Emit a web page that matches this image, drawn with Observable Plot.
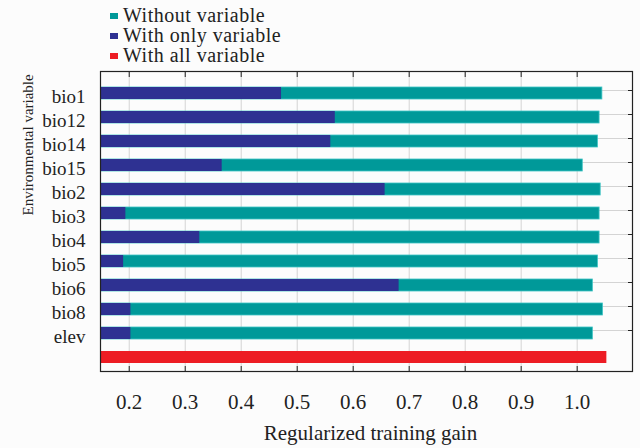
<!DOCTYPE html>
<html>
<head>
<meta charset="utf-8">
<script src="https://cdn.jsdelivr.net/npm/d3@7"></script>
<script src="https://cdn.jsdelivr.net/npm/@observablehq/plot@0.6"></script>
<style>
  html, body { margin: 0; padding: 0; background: #fcfcfc; }
  #wrap { width: 640px; height: 448px; position: relative; overflow: hidden; color: #222; }
  #legend { position: relative; height: 60px; }
  .item { position: absolute; left: 110px; height: 20px; line-height: 20px; font-size: 20px; letter-spacing: 0.5px; white-space: nowrap; }
  .sw { display: inline-block; width: 8px; height: 6px; margin-right: 5px; vertical-align: middle; position: relative; top: -1px; }
</style>
</head>
<body>
<div id="wrap">
  <div id="legend"></div>
  <div id="chart"></div>
</div>
<script>
const variables = ["bio1","bio12","bio14","bio15","bio2","bio3","bio4","bio5","bio6","bio8","elev"];
const withoutGain = [1.045,1.040,1.037,1.010,1.042,1.040,1.040,1.037,1.028,1.046,1.028];
const onlyGain = [0.472,0.568,0.560,0.366,0.657,0.194,0.326,0.190,0.682,0.203,0.203];
const allGain = 1.053;
const allKey = "all";
const xTicks = [0.2,0.3,0.4,0.5,0.6,0.7,0.8,0.9,1.0];
const seriesNames = ["Without variable","With only variable","With all variable"];
const seriesColors = ["#009999","#2e3192","#ed1c24"];

const FONT = "'Liberation Serif', serif";

// legend
const legend = document.getElementById("legend");
seriesNames.forEach((name, i) => {
  const div = document.createElement("div");
  div.className = "item";
  div.style.top = (5 + i * 20) + "px";
  div.style.fontFamily = FONT;
  const sw = document.createElement("span");
  sw.className = "sw";
  sw.style.background = seriesColors[i];
  div.appendChild(sw);
  div.appendChild(document.createTextNode(name));
  legend.appendChild(div);
});

const withoutData = variables.map((v, i) => ({v, g: withoutGain[i]}));
const onlyData = variables.map((v, i) => ({v, g: onlyGain[i]}));
const allData = [{v: allKey, g: allGain}];

const chart = Plot.plot({
  width: 640,
  height: 388,
  marginLeft: 100,
  marginRight: 8,
  marginTop: 11,
  marginBottom: 77,
  style: { background: "#fcfcfc", fontFamily: FONT },
  x: { domain: [0.1487, 1.0988] },
  y: { domain: [...variables, allKey], paddingInner: 0.5, paddingOuter: 0, insetTop: 10.5, insetBottom: 3 },
  marks: [
    Plot.ruleX(xTicks, { x: d => d, stroke: "#d4d4d4", strokeWidth: 1 }),
    Plot.ruleY(variables, { y: d => d, dy: -3, stroke: "#d4d4d4", strokeWidth: 1 }),
    Plot.barX(withoutData, { y: "v", x: "g", fill: seriesColors[0], stroke: "#3cc4c4", strokeWidth: 0.8, clip: true }),
    Plot.barX(onlyData, { y: "v", x: "g", fill: seriesColors[1], clip: true }),
    Plot.barX(allData, { y: "v", x: "g", fill: seriesColors[2], clip: true }),
    Plot.frame({ stroke: "#222", strokeWidth: 1.2 }),
    Plot.axisX(xTicks, { anchor: "top", tickSize: 5, dy: 5, tickFormat: () => "", label: null, stroke: "#222" }),
    Plot.axisX(xTicks, { anchor: "bottom", tickSize: 5, dy: -5, tickFormat: () => "", label: null, stroke: "#222" }),
    Plot.axisX(xTicks, { anchor: "bottom", tickSize: 0, tickPadding: 23, tickFormat: d3.format(".1f"), fontSize: 21, label: null, fill: "#222" }),
    Plot.axisY(variables, { anchor: "right", tickSize: 5, dx: -5, dy: -3, tickFormat: () => "", label: null, stroke: "#222" }),
    Plot.axisY(variables, { anchor: "left", tickSize: 0, tickPadding: 15, dy: 3, fontSize: 19, label: null, fill: "#222" }),
    Plot.text(["Regularized training gain"], { frameAnchor: "bottom", lineAnchor: "top", dx: 4, dy: 54, fontSize: 21, fill: "#222", text: d => d }),
    Plot.text(["Environmental variable"], { frameAnchor: "left", rotate: -90, dx: -72, dy: -6, fontSize: 15, fill: "#222", text: d => d })
  ]
});
d3.select(chart).selectAll("text").style("font-family", FONT);
document.getElementById("chart").appendChild(chart);
</script>
</body>
</html>
